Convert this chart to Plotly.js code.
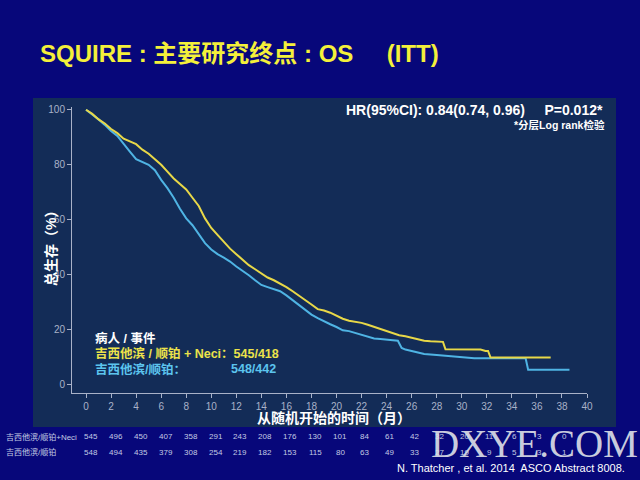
<!DOCTYPE html>
<html><head><meta charset="utf-8">
<script src="https://cdn.plot.ly/plotly-3.0.1.min.js"></script>
<style>html,body{margin:0;padding:0;background:#07077a;} #chart{width:640px;height:480px;}</style>
</head><body><div id="chart"></div>
<script>
// ---- data ----
const neciMonths   = [0,0.5,1,1.5,2,2.5,3,3.5,4,4.5,5,5.5,6,6.5,7,7.5,8,8.5,9,9.5,10,10.5,11,11.5,12,12.5,13,13.5,14,14.5,15,15.5,16,16.5,17,17.5,18,18.5,19,19.5,20,20.5,21,21.5,22,22.5,23,23.5,24,24.5,25,25.5,26,26.5,27,27.5,28,28.5,28.7,31.5,31.9,32.1,32.3,37.1];
const neciSurvival = [100,98.5,96.5,95,93,91.5,89.5,88.5,87.5,85.5,84,82,80,77.5,75,73,71,68,65,60.5,57,54.5,52,49.5,47.5,45.5,43.5,42,40.5,39,38,36.8,35.5,34,32.5,31,29.2,27.5,27,26.2,25,24,23.3,23,22.5,21.8,21,20.3,19.5,18.8,18,17.6,17,16.4,16,15.8,15.6,15.6,12.9,12.8,12.3,12.3,9.9,9.9];
const ctrlMonths   = [0,0.5,1,1.5,2,2.5,3,3.5,4,4.5,5,5.5,6,6.5,7,7.5,8,8.5,9,9.5,10,10.5,11,11.5,12,12.5,13,13.5,14,14.5,15,15.5,16,16.5,17,17.5,18,18.5,19,19.5,20,20.5,21,21.5,22,22.5,23,23.5,24,24.5,24.9,25.2,25.5,26,26.5,27,28,29,30,31,35.1,35.3,38.6];
const ctrlSurvival = [100,98.3,96.5,94.5,92.3,90.5,87.5,84.8,82,81,80,78,74.5,71.5,68,64,60.5,58,54.5,51.5,49.2,47.5,46.2,44.8,43,41.5,39.8,38,36.3,35.5,34.8,34,32.5,30.8,29.2,27.5,25.5,24.2,23,22,21,19.8,19.5,18.8,18,17.3,16.8,16.6,16.5,16.2,16,13.4,12.8,12.2,11.6,11.2,10.8,10.4,9.9,9.6,9.6,5.5,5.5];
const riskMonths = [0,2,4,6,8,10,12,14,16,18,20,22,24,26,28,30,32,34,36,38,40];
const riskNeci   = [545,496,450,407,358,291,243,208,176,130,101,84,61,42,32,20,11,6,3,0,0];
const riskCtrl   = [548,494,435,379,308,254,219,182,153,115,80,63,49,33,27,19,9,5,3,1,0];
const xTickVals = [0,2,4,6,8,10,12,14,16,18,20,22,24,26,28,30,32,34,36,38,40];
const yTickVals = [0,20,40,60,80,100];
const seriesNames = ['吉西他滨/顺铂', '吉西他滨/顺铂+Neci'];

// ---- geometry helpers (pixel -> paper) ----
const L = 72, R = 587, T = 107, B = 393;
const W = R - L, H = B - T;
const px = x => (x - L) / W;
const py = y => (B - y) / H;

const FONT = "Arial, 'Liberation Sans', 'Noto Sans CJK SC', sans-serif";
const YEL = '#e8d848', CYA = '#4fb4e4';
const TABLE_COLOR = '#c3cbe4';

const traces = [
  {x: ctrlMonths, y: ctrlSurvival, mode: 'lines', line: {shape: 'linear', color: CYA, width: 2}, name: seriesNames[0], hoverinfo: 'skip'},
  {x: neciMonths, y: neciSurvival, mode: 'lines', line: {shape: 'linear', color: YEL, width: 2}, name: seriesNames[1], hoverinfo: 'skip'},
  // invisible carrier so that the risk-table axis (x2) exists
  {x: riskMonths, y: riskMonths.map(() => null), mode: 'markers', marker: {opacity: 0}, xaxis: 'x2', yaxis: 'y', hoverinfo: 'skip'}
];

const ann = (text, x, y, size, color, xanchor, extra) => Object.assign({
  text: text, xref: 'paper', yref: 'paper', x: px(x), y: py(y), xanchor: xanchor || 'left', yanchor: 'middle',
  showarrow: false, font: {family: FONT, size: size, color: color}, borderpad: 0
}, extra || {});

const NB = '\u00a0';
const annotations = [
  ann('<b>SQUIRE' + NB + ':' + NB + '主要研究终点' + NB + ':' + NB + 'OS' + NB.repeat(5) + '(ITT)</b>', 39, 53, 24, '#f4f03a'),
  ann('<b>HR(95%CI): 0.84(0.74, 0.96)' + NB.repeat(5) + 'P=0.012*</b>', 604, 110, 14, '#ffffff', 'right'),
  ann('<b>*分层Log rank检验</b>', 606, 125, 10.5, '#ffffff', 'right'),
  ann('<b>病人 / 事件</b>', 94, 338, 12.5, '#ffffff'),
  ann('<b>吉西他滨 / 顺铂 + Neci：545/418</b>', 94, 353, 12.5, '#ece24a'),
  ann('<b>吉西他滨/顺铂：</b>', 94, 369, 12.5, '#5cc4ee'),
  ann('<b>548/442</b>', 230, 369, 12.5, '#5cc4ee'),
  ann('<b>总生存（%）</b>', 51, 245, 14, '#ffffff', 'center', {textangle: -90}),
  ann('<b>从随机开始的时间（月）</b>', 334, 418, 14, '#ffffff', 'center'),
  ann(seriesNames[1], 5, 437, 8, TABLE_COLOR),
  ann(seriesNames[0], 5, 452, 8, TABLE_COLOR)
];

// number-at-risk table, placed through the table axis (x2)
riskMonths.forEach((m, i) => {
  [[riskNeci[i], 437], [riskCtrl[i], 452]].forEach(([v, yy]) => {
    annotations.push({text: String(v), xref: 'x2', yref: 'paper', x: m, y: py(yy), xanchor: 'center', yanchor: 'middle',
      showarrow: false, font: {family: FONT, size: 8, color: TABLE_COLOR}, borderpad: 0});
  });
});

annotations.push(
  ann('DXYE.COM', 534, 443, 39, 'rgba(222,224,232,0.92)', 'center', {font: {family: "'Liberation Serif', 'DejaVu Serif', serif", size: 39, color: 'rgba(222,224,232,0.92)'}}),
  ann('N. Thatcher , et al. 2014  ASCO Abstract 8008.', 626, 468, 11, '#ffffff', 'right')
);

const axisCommon = {
  showgrid: false, zeroline: false, showline: true, linecolor: '#a9b2c8', linewidth: 1,
  ticks: 'outside', ticklen: 4, tickcolor: '#a9b2c8', tickwidth: 1,
  tickfont: {family: FONT, size: 10, color: '#a9b2c8'}, fixedrange: true
};

const layout = {
  width: 640, height: 480,
  margin: {l: L, r: 640 - R, t: T, b: 480 - B, pad: 0},
  paper_bgcolor: '#07077a', plot_bgcolor: '#132c57',
  showlegend: false,
  xaxis: Object.assign({}, axisCommon, {range: [-1.12, 40], tickmode: 'array', tickvals: xTickVals}),
  xaxis2: {overlaying: 'x', anchor: 'y', range: [-1.526, 39.84], visible: false, fixedrange: true},
  yaxis: Object.assign({}, axisCommon, {range: [-3, 101], tickmode: 'array', tickvals: yTickVals}),
  shapes: [{type: 'rect', xref: 'paper', yref: 'paper', x0: px(33), x1: px(616), y0: py(427), y1: py(98),
            fillcolor: '#132c57', line: {width: 0}, layer: 'below'}],
  annotations: annotations
};

Plotly.newPlot('chart', traces, layout, {displayModeBar: false, staticPlot: true});
</script></body></html>
